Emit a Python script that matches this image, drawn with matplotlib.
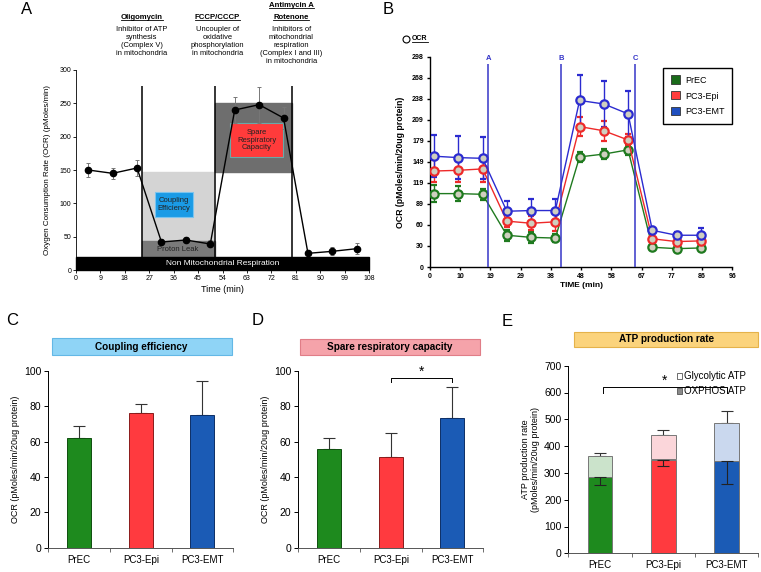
import numpy as np
import matplotlib.pyplot as plt
from matplotlib.patches import Rectangle, Patch
from matplotlib.lines import Line2D
from matplotlib.transforms import IdentityTransform

plt.rcParams['font.family'] = ['Liberation Sans', 'DejaVu Sans']

# ---- panel A: schematic mito stress test trace ----
a_time = [4.5, 13.5, 22.5, 31.5, 40.5, 49.5, 58.5, 67.5, 76.5, 85.5, 94.5, 103.5]
a_ocr = [150, 145, 153, 42, 45, 39, 240, 248, 228, 25, 28, 32]
a_err = [10, 8, 12, 4, 5, 6, 20, 27, 17, 3, 6, 8]
a_inject = [24.3, 51.2, 79.7]
# levels used for the shaded regions
non_mito = 20
proton_leak = 43
basal = 147
maximal = 251

# ---- panel B: OCR traces ----
b_time = [1.3, 9.0, 16.7, 24.4, 32.1, 39.8, 47.5, 55.2, 62.9, 70.6, 78.3, 86.0]
b_prec = [104, 104, 103, 45, 42, 41, 156, 160, 166, 28, 26, 27]
b_prec_err = [12, 11, 8, 8, 8, 6, 7, 7, 7, 4, 4, 4]
b_epi = [136, 137, 139, 65, 62, 64, 199, 193, 180, 40, 36, 37]
b_epi_err = [15, 17, 18, 8, 10, 13, 14, 14, 8, 5, 5, 5]
b_emt = [157, 155, 154, 79, 80, 80, 236, 231, 217, 52, 45, 45]
b_emt_err = [30, 30, 30, 14, 16, 17, 36, 33, 33, 5, 5, 10]
b_inject = [18.5, 41.6, 65.1]
b_inject_labels = ['A', 'B', 'C']
b_xtick_labels = ['0', '10', '19', '29', '38', '48', '58', '67', '77', '86', '96']
b_ytick_labels = ['0', '30', '60', '89', '119', '149', '179', '209', '238', '268', '298']

# ---- panels C, D, E ----
groups = ['PrEC', 'PC3-Epi', 'PC3-EMT']
coupling = [62, 76, 75]
coupling_err = [7, 5, 19]
spare = [56, 51, 73]
spare_err = [6, 14, 18]
oxphos_atp = [285, 350, 345]
oxphos_err = [32, 25, 87]
glyco_atp = [78, 91, 142]
glyco_err = [12, 18, 45]

bar_cols = ['#1e8a1e', '#ff3a3f', '#1b5bb5']
bar_edges = ['#0f4f0f', '#8a1a1a', '#0d2f66']
light_cols = ['#cbe3cb', '#fbd6da', '#cad8ee']
line_cols = ['#1f7a1f', '#ee2a2a', '#2b2bd0']
leg_cols = ['#1a6b1a', '#ff3b3b', '#1f4fbf']

W, H = 761, 572
fig = plt.figure(figsize=(W / 100, H / 100), dpi=100)


def px_axes(l, t, r, b):
    return fig.add_axes([l / W, 1 - b / H, (r - l) / W, (b - t) / H])


to_underline = []

# ================= A =================
axA = px_axes(76, 70, 369, 270)
axA.set_xlim(0, 108)
axA.set_ylim(0, 300)
axA.spines['top'].set_visible(False)
axA.spines['right'].set_visible(False)
axA.set_xticks(np.arange(0, 109, 9))
axA.set_yticks(np.arange(0, 301, 50))
axA.tick_params(labelsize=5, length=2, width=0.6, pad=1.5)
for s in ['left', 'bottom']:
    axA.spines[s].set_linewidth(0.6)
axA.set_xlabel('Time (min)', fontsize=6.5, labelpad=2)
axA.set_ylabel('Oxygen Consumption Rate (OCR) (pMoles/min)', fontsize=5.8, labelpad=6)

axA.add_patch(Rectangle((a_inject[0], proton_leak), 50.4 - a_inject[0], basal - proton_leak,
                        color='#d4d4d4', zorder=1))
axA.add_patch(Rectangle((a_inject[0], non_mito), a_inject[1] - a_inject[0], proton_leak - non_mito,
                        color='#7a7a7a', zorder=1))
axA.add_patch(Rectangle((a_inject[1], basal), a_inject[2] - a_inject[1], maximal - basal,
                        color='#6e6e6e', zorder=1))
axA.add_patch(Rectangle((56.8, 169), 19.6, 52, facecolor='#ff3b3b', edgecolor='#6aa8a8',
                        lw=0.8, zorder=2))
axA.add_patch(Rectangle((29.1, 79), 13.9, 38, facecolor='#1a9be6', edgecolor='#7cc4ee',
                        lw=0.8, zorder=2))
axA.text(66.6, 195, 'Spare\nRespiratory\nCapacity', ha='center', va='center',
         fontsize=5.5, color='#222222', zorder=3, linespacing=1.15)
axA.text(36.05, 98, 'Coupling\nEfficiency', ha='center', va='center',
         fontsize=5.5, color='#222222', zorder=3, linespacing=1.15)
axA.text(37.5, 31, 'Proton Leak', ha='center', va='center', fontsize=5.5,
         color='#222222', zorder=3)

axA.vlines(a_inject, 0, 276, color='black', lw=1.1, zorder=4)
axA.errorbar(a_time, a_ocr, yerr=a_err, color='black', lw=1, marker='o', ms=4.5,
             ecolor='#777777', elinewidth=0.7, capsize=1.5, capthick=0.7, zorder=5)
axA.add_patch(Rectangle((0, 0), 108, non_mito, color='black', zorder=6, clip_on=False))
axA.text(54, non_mito / 2, 'Non Mitochondrial Respiration', ha='center', va='center',
         color='white', fontsize=6, zorder=7)

heads = [
    (a_inject[0], 379, 'Oligomycin'),
    (52.2, 379, 'FCCP/CCCP'),
    (79.3, 397, 'Antimycin A'),
    (79.3, 379, 'Rotenone'),
]
for x, y, s in heads:
    t = axA.text(x, y, s, ha='center', va='center', fontsize=5.6, fontweight='bold',
                 clip_on=False)
    to_underline.append(t)
descs = [
    (a_inject[0], 'Inhibitor of ATP\nsynthesis\n(Complex V)\nin mitochondria'),
    (52.2, 'Uncoupler of\noxidative\nphosphorylation\nin mitochondria'),
    (79.3, 'Inhibitors of\nmitochondrial\nrespiration\n(Complex I and III)\nin mitochondria'),
]
for x, s in descs:
    axA.text(x, 366, s, ha='center', va='top', fontsize=5.4, clip_on=False, linespacing=1.2)

# ================= B =================
axB = px_axes(430, 56.7, 732.3, 267)
axB.set_xlim(0, 96)
axB.set_ylim(0, 298)
axB.spines['top'].set_visible(False)
axB.spines['right'].set_visible(False)
for s in ['left', 'bottom']:
    axB.spines[s].set_linewidth(1.0)
axB.set_xticks(np.arange(11) * 9.6)
axB.set_xticklabels(b_xtick_labels)
axB.set_yticks(np.arange(11) * 29.8)
axB.set_yticklabels(b_ytick_labels)
axB.tick_params(labelsize=5, length=2.5, width=1, pad=2)
for lab in axB.get_xticklabels() + axB.get_yticklabels():
    lab.set_fontweight('bold')
axB.set_xlabel('TIME (min)', fontsize=6, fontweight='bold', labelpad=1)
axB.set_ylabel('OCR (pMoles/min/20ug protein)', fontsize=6.3, fontweight='bold', labelpad=5)

for yv, ye, c in [(b_prec, b_prec_err, line_cols[0]), (b_epi, b_epi_err, line_cols[1]),
                  (b_emt, b_emt_err, line_cols[2])]:
    axB.errorbar(b_time, yv, yerr=ye, color=c, lw=1, marker='o', ms=6, mfc='#cfcfbf',
                 mec=c, mew=1.6, capsize=2, capthick=1, elinewidth=1, zorder=3)
axB.vlines(b_inject, 0, 288, color='#3535c8', lw=1.1, zorder=5)
for x, lab in zip(b_inject, b_inject_labels):
    axB.text(x, 290, lab, ha='center', va='bottom', fontsize=5.5, fontweight='bold',
             color='#3535c8')

handles = [Patch(facecolor=leg_cols[i], edgecolor='#333333', lw=0.6) for i in range(3)]
leg = axB.legend(handles, groups, loc='upper left', bbox_to_anchor=(0.772, 0.945),
                 fontsize=6.5, frameon=True, fancybox=False, edgecolor='black',
                 framealpha=1, handlelength=1.0, handleheight=1.0, handletextpad=0.6,
                 labelspacing=0.75, borderpad=0.8, borderaxespad=0)
leg.get_frame().set_linewidth(1.0)

fig.add_artist(Line2D([406 / W], [1 - 39 / H], marker='o', ms=5, mfc='white',
                      mec='black', mew=0.8, transform=fig.transFigure))
t = fig.text(412 / W, 1 - 39 / H, 'OCR', fontsize=5, fontweight='bold', va='center')
to_underline.append(t)


# ================= C, D, E =================
def setup_bar_axes(ax, ymax, ystep, ylabel, title, fc, ec, box_y):
    ax.set_xlim(-0.5, 2.5)
    ax.set_ylim(0, ymax)
    ax.spines['top'].set_visible(False)
    ax.spines['right'].set_visible(False)
    ax.spines['left'].set_linewidth(0.7)
    ax.spines['bottom'].set_linewidth(0.7)
    ax.spines['bottom'].set_color('#555555')
    ax.set_yticks(np.arange(0, ymax + 1, ystep))
    ax.set_xticks([0, 1, 2])
    ax.set_xticklabels(groups)
    ax.set_xticks([-0.5, 0.5, 1.5, 2.5], minor=True)
    ax.tick_params(axis='x', which='major', length=0, labelsize=7, pad=5)
    ax.tick_params(axis='x', which='minor', length=3, width=0.6, color='#555555')
    ax.tick_params(axis='y', length=3, width=0.7, labelsize=7.5, pad=2)
    ax.set_ylabel(ylabel, fontsize=6.5, labelpad=3, linespacing=1.1)
    x0, x1, y0, y1 = box_y
    ax.add_patch(Rectangle((x0, y0), x1 - x0, y1 - y0, transform=ax.transAxes,
                           facecolor=fc, edgecolor=ec, lw=0.8, clip_on=False))
    ax.text((x0 + x1) / 2, (y0 + y1) / 2, title, transform=ax.transAxes, ha='center',
            va='center', fontsize=7.2, fontweight='bold')


def bracket(ax, xa, xb, y, drop, star_y):
    ax.plot([xa, xa, xb, xb], [y - drop, y, y, y - drop], color='black', lw=0.7,
            clip_on=False)
    ax.text((xa + xb) / 2, star_y, '*', ha='center', va='center', fontsize=10)


x = np.arange(3)
bw = 0.39

axC = px_axes(48.3, 370.7, 233.3, 547.7)
setup_bar_axes(axC, 100, 20, 'OCR (pMoles/min/20ug protein)', 'Coupling efficiency',
               '#8fd4f6', '#63b8e6', (0.018, 0.991, 1.089, 1.183))
axC.bar(x, coupling, bw, color=bar_cols, edgecolor=bar_edges, lw=0.7, zorder=2)
axC.errorbar(x, coupling, yerr=[[0] * 3, coupling_err], fmt='none', ecolor='#333333',
             elinewidth=0.8, capsize=4, capthick=0.8, zorder=1)

axD = px_axes(298.3, 370.7, 483.3, 547.7)
setup_bar_axes(axD, 100, 20, 'OCR (pMoles/min/20ug protein)', 'Spare respiratory capacity',
               '#f5a3aa', '#e07d87', (0.009, 0.984, 1.089, 1.178))
axD.bar(x, spare, bw, color=bar_cols, edgecolor=bar_edges, lw=0.7, zorder=2)
axD.errorbar(x, spare, yerr=[[0] * 3, spare_err], fmt='none', ecolor='#333333',
             elinewidth=0.8, capsize=4, capthick=0.8, zorder=1)
bracket(axD, 1, 2, 96, 2.5, 99.5)

axE = px_axes(568.3, 365.7, 758.3, 553.3)
setup_bar_axes(axE, 700, 100, 'ATP production rate\n(pMoles/min/20ug protein)',
               'ATP production rate', '#fbd37c', '#e5b24a', (0.03, 1.0, 1.101, 1.181))
total = [o + g for o, g in zip(oxphos_atp, glyco_atp)]
axE.bar(x, oxphos_atp, bw, color=bar_cols, edgecolor='#777777', lw=0.7, zorder=2)
axE.bar(x, glyco_atp, bw, bottom=oxphos_atp, color=light_cols, edgecolor='#777777',
        lw=0.7, zorder=2)
axE.errorbar(x, oxphos_atp, yerr=[oxphos_err, [0] * 3], fmt='none', ecolor='#222222',
             elinewidth=0.8, capsize=4, capthick=0.8, zorder=3)
axE.errorbar(x, total, yerr=[[0] * 3, glyco_err], fmt='none', ecolor='#333333',
             elinewidth=0.8, capsize=4, capthick=0.8, zorder=1)
bracket(axE, 0.05, 2, 619, 20, 645)
eh = [Patch(facecolor='white', edgecolor='#555555', lw=0.6),
      Patch(facecolor='#8a8a8a', edgecolor='#555555', lw=0.6)]
axE.legend(eh, ['Glycolytic ATP', 'OXPHOS ATP'], loc='upper left',
           bbox_to_anchor=(0.572, 0.97), frameon=False, fontsize=7, handlelength=0.55,
           handleheight=0.55, handletextpad=0.2, labelspacing=0.5, borderpad=0,
           borderaxespad=0)

# panel letters
for lx, ly, s in [(21, 2, 'A'), (383, 2, 'B'), (6, 313, 'C'), (252, 313, 'D'), (502, 314, 'E')]:
    fig.text(lx / W, 1 - ly / H, s, fontsize=12, va='top', ha='left')

# underline the injection names / OCR label
fig.canvas.draw()
for t in to_underline:
    bb = t.get_window_extent()
    fig.add_artist(Line2D([bb.x0, bb.x1], [bb.y0 + 0.5, bb.y0 + 0.5], color='black',
                          lw=0.6, transform=IdentityTransform()))

fig.savefig('out.png', dpi=100)
